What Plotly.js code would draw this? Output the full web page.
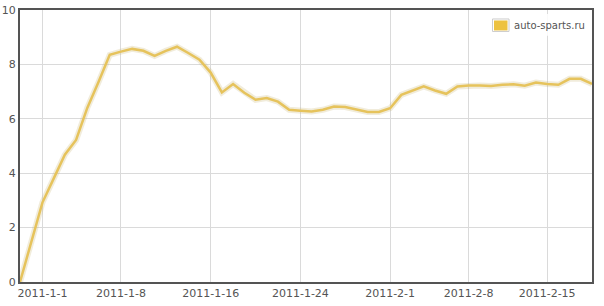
<!DOCTYPE html>
<html>
<head>
<meta charset="utf-8">
<script src="https://cdn.plot.ly/plotly-3.0.1.min.js"></script>
<style>html,body{margin:0;padding:0;background:#fff;}#chart{width:604px;height:306px;}</style>
</head>
<body>
<div id="chart"></div>
<script>
var seriesName = 'auto-sparts.ru';
var seriesColor = '#edc240';
var dates = [
  '2010-12-30','2010-12-31',
  '2011-01-01','2011-01-02','2011-01-03','2011-01-04','2011-01-05','2011-01-06','2011-01-07',
  '2011-01-08','2011-01-09','2011-01-10','2011-01-11','2011-01-12','2011-01-13','2011-01-14',
  '2011-01-15','2011-01-16','2011-01-17','2011-01-18','2011-01-19','2011-01-20','2011-01-21',
  '2011-01-22','2011-01-23','2011-01-24','2011-01-25','2011-01-26','2011-01-27','2011-01-28',
  '2011-01-29','2011-01-30','2011-01-31',
  '2011-02-01','2011-02-02','2011-02-03','2011-02-04','2011-02-05','2011-02-06','2011-02-07',
  '2011-02-08','2011-02-09','2011-02-10','2011-02-11','2011-02-12','2011-02-13','2011-02-14',
  '2011-02-15','2011-02-16','2011-02-17','2011-02-18','2011-02-19'
];
var values = [
  0, 1.45,
  2.92, 3.8, 4.68, 5.22, 6.4, 7.35, 8.35,
  8.47, 8.57, 8.5, 8.31, 8.5, 8.65, 8.42,
  8.17, 7.7, 6.97, 7.28, 6.96, 6.7, 6.76,
  6.63, 6.33, 6.3, 6.27, 6.33, 6.45, 6.43,
  6.33, 6.25, 6.25,
  6.39, 6.88, 7.03, 7.19, 7.04, 6.92, 7.19,
  7.22, 7.22, 7.21, 7.25, 7.27, 7.22, 7.33,
  7.28, 7.25, 7.47, 7.47, 7.28
];
var xTickVals = ['2011-01-01','2011-01-08','2011-01-16','2011-01-24','2011-02-01','2011-02-08','2011-02-15'];
var xTickText = ['2011-1-1','2011-1-8','2011-1-16','2011-1-24','2011-2-1','2011-2-8','2011-2-15'];
var yTickVals = [0, 2, 4, 6, 8, 10];

var traces = [
  {x: dates, y: values, type: 'scatter', mode: 'lines', showlegend: false, hoverinfo: 'skip',
   line: {color: 'rgba(200,178,110,0.25)', width: 6}},
  {x: dates, y: values, type: 'scatter', mode: 'lines', showlegend: false, name: seriesName,
   line: {color: '#e6c35c', width: 2.5}}
];

var layout = {
  width: 604, height: 306,
  margin: {l: 20, r: 12, t: 10, b: 23.5, pad: 0},
  paper_bgcolor: '#ffffff', plot_bgcolor: '#ffffff',
  font: {family: 'DejaVu Sans, Verdana, sans-serif', size: 11, color: '#545454'},
  xaxis: {
    type: 'date', range: ['2010-12-30', '2011-02-19'],
    tickmode: 'array', tickvals: xTickVals, ticktext: xTickText,
    showgrid: true, gridcolor: '#dadada', gridwidth: 1,
    showline: true, linecolor: '#545454', linewidth: 2, mirror: true,
    ticks: '', zeroline: false, tickfont: {size: 11, color: '#545454'}
  },
  yaxis: {
    range: [0, 10], tickmode: 'array', tickvals: yTickVals,
    showgrid: true, gridcolor: '#dadada', gridwidth: 1,
    showline: true, linecolor: '#545454', linewidth: 2, mirror: true,
    ticks: '', zeroline: false, tickfont: {size: 11, color: '#545454'}
  },
  showlegend: false,
  shapes: [
    {type: 'rect', xref: 'paper', yref: 'paper', x0: 0.819, x1: 0.992, y0: 0.905, y1: 0.985,
     fillcolor: 'rgba(255,255,255,0.85)', line: {width: 0}, layer: 'above'},
    {type: 'rect', xref: 'paper', yref: 'paper', x0: 0.8260, x1: 0.8549, y0: 0.9211, y1: 0.9670,
     fillcolor: 'rgba(0,0,0,0)', line: {color: '#cccccc', width: 1}, layer: 'above'},
    {type: 'rect', xref: 'paper', yref: 'paper', x0: 0.8287, x1: 0.8523, y0: 0.9248, y1: 0.9615,
     fillcolor: seriesColor, line: {width: 0}, layer: 'above'}
  ],
  annotations: [
    {xref: 'paper', yref: 'paper', x: 0.8610, y: 0.9431, xanchor: 'left', yanchor: 'middle',
     text: seriesName, showarrow: false, font: {size: 10, color: '#545454'}}
  ]
};

Plotly.newPlot('chart', traces, layout, {displayModeBar: false, staticPlot: true});
</script>
</body>
</html>
